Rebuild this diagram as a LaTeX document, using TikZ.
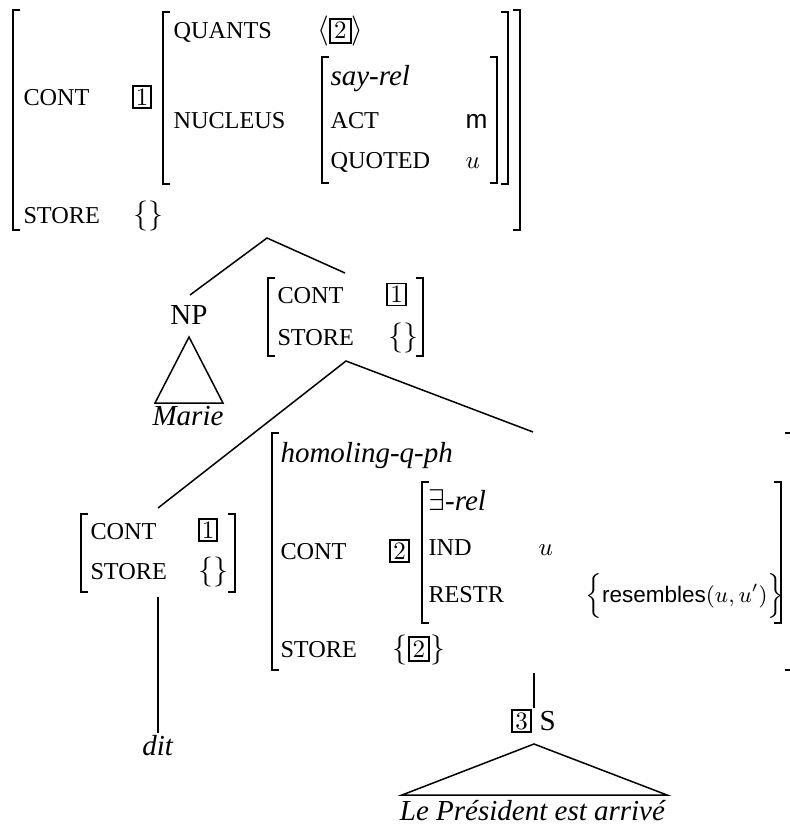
\documentclass[tikz,border=0pt]{standalone}
\usepackage{fontspec}
\setmainfont{Liberation Serif}
\newfontfamily\sansf{Liberation Sans}
\newcommand\feat[1]{{\fontsize{9.7}{11}\selectfont #1}}
\newcommand\tagn[1]{{\setlength\fboxsep{1.2pt}\setlength\fboxrule{0.8pt}\fbox{\fontsize{10}{10}\selectfont$#1$}}}
\newcommand\LB[3]{\draw[brk] (#1,#2) ++(7,0) -- ++(-7,0) -- (#1,#3) -- ++(7,0);}
\newcommand\RB[3]{\draw[brk] (#1,#2) ++(-7,0) -- ++(7,0) -- (#1,#3) -- ++(-7,0);}
\begin{document}
\begin{tikzpicture}[x=0.4pt,y=-0.4pt,
  every node/.style={inner sep=0pt, font=\fontsize{11.6}{14}\selectfont},
  brk/.style={line width=0.5pt},
  edge/.style={line width=0.6pt},
  lbl/.style={anchor=base west},
  ctr/.style={anchor=base},
  tagnode/.style={draw, line width=0.75pt, inner sep=1.2pt, font=\fontsize{10}{10}\selectfont}]
\useasboundingbox (0,0) rectangle (790,826);
% ---------- top AVM ----------
\LB{13}{10}{230}
\RB{520}{10}{230}
\LB{163}{12}{184}
\RB{508}{12}{184}
\LB{322}{57}{183}
\RB{497}{57}{183}
\node[lbl] (contA) at (23,106) {\feat{CONT}};
\node[tagnode] (tagA) at (142,97) {$1$};
\node[lbl] (storeA) at (23,223) {\feat{STORE}};
\node[lbl] (storeAv) at (133,223) {$\{\}$};
\node[lbl] (quants) at (173,39) {\feat{QUANTS}};
\node[lbl] (quantsv) at (317,39) {$\langle$\tagn{2}$\rangle$};
\node[lbl] (nucleus) at (173,128) {\feat{NUCLEUS}};
\node[lbl] (sayrel) at (330,86) {\textit{say-rel}};
\node[lbl] (act) at (330,128) {\feat{ACT}};
\node[lbl] (actv) at (465,128) {\fontsize{10.5}{12}\sansf m};
\node[lbl] (quoted) at (330,169) {\feat{QUOTED}};
\node[lbl] (quotedv) at (465,169) {\fontsize{10}{12}\selectfont $u$};
% ---------- first branching ----------
\coordinate (apexA) at (267,238);
\coordinate (npTop) at (190,295);
\coordinate (avmBTop) at (345,273);
\node[ctr] (np) at (189,324) {NP};
\draw[edge] (npTop) -- (apexA) -- (avmBTop);
\coordinate (triAtop) at (189,337);
\coordinate (triAl) at (155,403);
\coordinate (triAr) at (223,403);
\draw[edge] (triAtop) -- (triAl) -- (triAr) -- cycle;
\node[ctr] (marie) at (188,425) {\textit{Marie}};
% ---------- AVM B ----------
\LB{268}{278}{356}
\RB{423}{278}{356}
\node[lbl] (contB) at (277,303) {\feat{CONT}};
\node[tagnode] (tagB) at (396.5,294.5) {$1$};
\node[lbl] (storeB) at (277,345) {\feat{STORE}};
\node[lbl] (storeBv) at (388,345) {$\{\}$};
% ---------- second branching ----------
\coordinate (apexB) at (346,361);
\coordinate (avmCTop) at (158,508);
\coordinate (avmDTop) at (533,432);
\draw[edge] (avmCTop) -- (apexB) -- (avmDTop);
% ---------- AVM C ----------
\LB{81}{514}{592}
\RB{235}{514}{592}
\node[lbl] (contC) at (90,539) {\feat{CONT}};
\node[tagnode] (tagC) at (208,530) {$1$};
\node[lbl] (storeC) at (90,579) {\feat{STORE}};
\node[lbl] (storeCv) at (198,579) {$\{\}$};
\coordinate (avmCBot) at (158,597);
\node[ctr] (dit) at (158,755) {\textit{dit}};
\coordinate (ditTop) at (158,733);
\draw[edge] (avmCBot) -- (ditTop);
% ---------- AVM D ----------
\LB{272}{433}{670}
\RB{792}{433}{670}
\node[lbl] (homo) at (280,462) {\textit{homoling-q-ph}};
\node[lbl] (contD) at (280,559) {\feat{CONT}};
\node[tagnode] (tagD) at (399.5,551) {$2$};
\LB{422}{482}{623}
\RB{781}{482}{623}
\node[lbl] (exrel) at (428,510) {$\exists$\textit{-rel}};
\node[lbl] (ind) at (428,555) {\feat{IND}};
\node[lbl] (indv) at (538,555) {\fontsize{10}{12}\selectfont $u$};
\node[lbl] (restr) at (428,602) {\feat{RESTR}};
\node[lbl] (restrv) at (585,602) {\fontsize{9}{11}\selectfont $\Big\{$\sansf resembles$(u,u')\Big\}$};
\node[lbl] (storeD) at (280,657) {\feat{STORE}};
\node[lbl] (storeDv) at (392,657) {$\{$\tagn{2}$\}$};
% ---------- S ----------
\coordinate (avmDBot) at (534,673);
\coordinate (sTop) at (534,708);
\draw[edge] (avmDBot) -- (sTop);
\node[tagnode] (tagS) at (521.5,721) {$3$};
\node[lbl] (s) at (539,730) {S};
\coordinate (triBtop) at (534,744);
\coordinate (triBl) at (402,795);
\coordinate (triBr) at (667,795);
\draw[edge] (triBtop) -- (triBl) -- (triBr) -- cycle;
\node[ctr] (sent) at (533,820) {\textit{Le Président est arrivé}};
\end{tikzpicture}
\end{document}
